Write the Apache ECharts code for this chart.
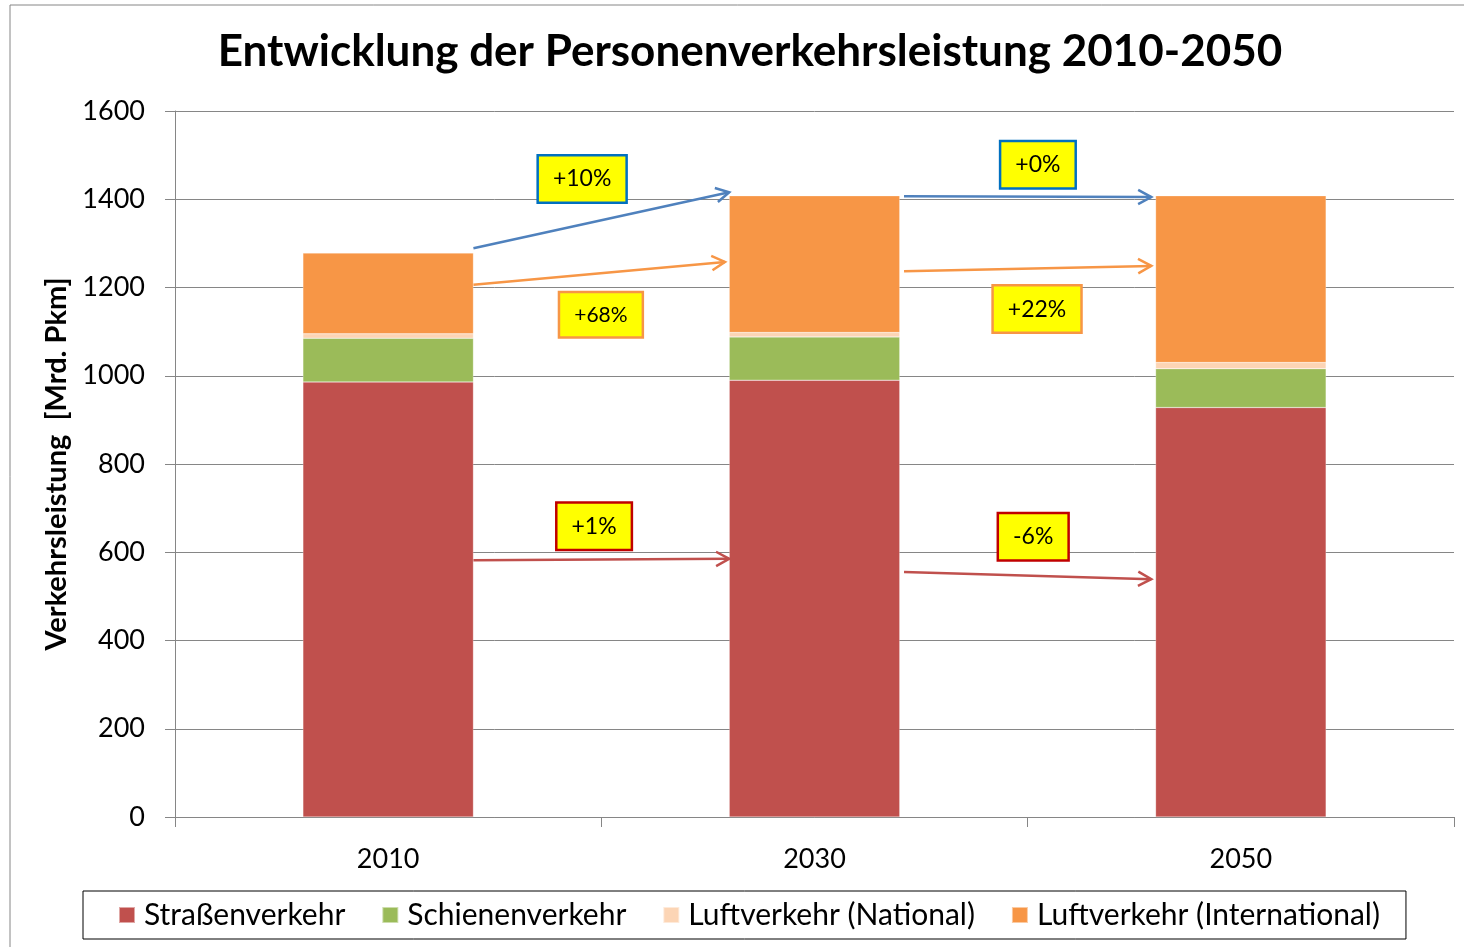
<!DOCTYPE html>
<html>
<head>
<meta charset="utf-8">
<script src="https://cdn.jsdelivr.net/npm/echarts@6/dist/echarts.min.js"></script>
<style>
html, body { margin: 0; padding: 0; background: #fff; }
#chart { width: 1464px; height: 947px; }
</style>
</head>
<body>
<div id="chart"></div>
<script>
// Kategorien und Werte (Mrd. Pkm)
const years = ['2010', '2030', '2050'];
const strasse = [986, 990, 928];
const schiene = [99, 98, 88];
const luftNational = [10, 10, 14];
const luftInternational = [183, 310, 378];

// Pfeile: [x von, y von, x bis, y bis] (x in Kategorie-Einheiten)
const arrows = [
    [0.20, 1289, 0.80, 1416],
    [1.21, 1407, 1.79, 1405],
    [0.20, 1206, 0.79, 1258],
    [1.21, 1237, 1.79, 1249],
    [0.20, 582, 0.80, 585],
    [1.21, 555, 1.79, 539]
];
const arrowColors = ['#4F81BD', '#4F81BD', '#F79646', '#F79646', '#C0504D', '#C0504D'];

// Beschriftungen der Veraenderungen
const changeLabels = ['+10%', '+0%', '+68%', '+22%', '+1%', '-6%'];
const changeX = [0.455, 1.524, 0.499, 1.522, 0.483, 1.513];
const changeY = [1446, 1478, 1138, 1151, 659, 635];
const changeBorder = ['#0070C0', '#0070C0', '#F79646', '#F79646', '#C00000', '#C00000'];

const font = 'Lato';
const colors = ['#C0504D', '#9BBB59', '#FCD5B5', '#F79646'];

function barSeries(name, data, color) {
    return {
        name: name,
        type: 'bar',
        stack: 'total',
        barWidth: '40%',
        data: data,
        itemStyle: {
            color: color,
            borderColor: 'rgba(255,255,255,0.5)',
            borderWidth: 0.5
        }
    };
}

let chart = echarts.init(document.getElementById('chart'));
let option = {
    animation: false,
    color: colors,
    textStyle: {fontFamily: font},
    title: {
        text: 'Entwicklung der Personenverkehrsleistung 2010-2050',
        left: 745,
        top: 25,
        textAlign: 'center',
        textStyle: {
            fontFamily: font,
            fontSize: 44,
            fontWeight: 'bold',
            color: '#000'
        }
    },
    graphic: [{
        type: 'rect',
        shape: {x: 10, y: 5, width: 1480, height: 980},
        style: {fill: null, stroke: '#868686', lineWidth: 1},
        silent: true
    }],
    legend: {
        left: 83,
        top: 891,
        icon: 'rect',
        itemWidth: 16,
        itemHeight: 16,
        itemGap: 36,
        padding: [9, 26, 9, 35],
        borderColor: '#000',
        borderWidth: 1,
        textStyle: {fontFamily: font, fontSize: 30, color: '#000', padding: [0, 0, 0, 4]},
        data: ['Straßenverkehr', 'Schienenverkehr', 'Luftverkehr (National)', 'Luftverkehr (International)']
    },
    grid: {
        left: 175,
        right: 10,
        top: 111,
        bottom: 130
    },
    xAxis: [{
        type: 'category',
        data: years,
        axisLine: {lineStyle: {color: '#868686'}},
        axisTick: {show: true, length: 10, lineStyle: {color: '#868686'}},
        axisLabel: {fontFamily: font, fontSize: 27, color: '#000', margin: 29}
    }, {
        type: 'value',
        min: -0.5,
        max: 2.5,
        show: false
    }],
    yAxis: {
        type: 'value',
        min: 0,
        max: 1600,
        interval: 200,
        name: 'Verkehrsleistung  [Mrd. Pkm]',
        nameLocation: 'middle',
        nameGap: 104,
        nameTextStyle: {fontFamily: font, fontSize: 29, fontWeight: 'bold', color: '#000'},
        axisLine: {show: true, onZero: false, lineStyle: {color: '#868686'}},
        axisTick: {show: true, length: 10, lineStyle: {color: '#868686'}},
        axisLabel: {
            fontFamily: font,
            fontSize: 27,
            color: '#000',
            margin: 30,
            formatter: (v) => String(v)
        },
        splitLine: {lineStyle: {color: '#868686', width: 1}}
    },
    series: [
        barSeries('Straßenverkehr', strasse, colors[0]),
        barSeries('Schienenverkehr', schiene, colors[1]),
        barSeries('Luftverkehr (National)', luftNational, colors[2]),
        barSeries('Luftverkehr (International)', luftInternational, colors[3]),
        {
            type: 'custom',
            xAxisIndex: 1,
            yAxisIndex: 0,
            silent: true,
            z: 5,
            data: arrows,
            encode: {x: [0, 2], y: [1, 3]},
            renderItem: function (params, api) {
                let p1 = api.coord([api.value(0), api.value(1)]);
                let p2 = api.coord([api.value(2), api.value(3)]);
                let color = arrowColors[params.dataIndex];
                let ang = Math.atan2(p2[1] - p1[1], p2[0] - p1[0]);
                let len = 15;
                let a = 0.5;
                let h1 = [p2[0] - len * Math.cos(ang - a), p2[1] - len * Math.sin(ang - a)];
                let h2 = [p2[0] - len * Math.cos(ang + a), p2[1] - len * Math.sin(ang + a)];
                return {
                    type: 'group',
                    children: [{
                        type: 'line',
                        shape: {x1: p1[0], y1: p1[1], x2: p2[0], y2: p2[1]},
                        style: {stroke: color, lineWidth: 2.5}
                    }, {
                        type: 'polyline',
                        shape: {points: [h1, p2, h2]},
                        style: {stroke: color, lineWidth: 2.5, fill: null}
                    }]
                };
            }
        },
        {
            type: 'custom',
            xAxisIndex: 1,
            yAxisIndex: 0,
            silent: true,
            z: 6,
            data: changeX.map((x, i) => [x, changeY[i]]),
            renderItem: function (params, api) {
                let p = api.coord([api.value(0), api.value(1)]);
                let i = params.dataIndex;
                return {
                    type: 'text',
                    x: p[0],
                    y: p[1],
                    style: {
                        text: changeLabels[i],
                        fontFamily: font,
                        fontSize: i === 2 ? 21 : 23,
                        fill: '#000',
                        align: 'center',
                        verticalAlign: 'middle',
                        backgroundColor: '#FFFF00',
                        borderColor: changeBorder[i],
                        borderWidth: 2.5,
                        padding: [11, 14, 11, 14]
                    }
                };
            }
        }
    ]
};
chart.setOption(option);
</script>
</body>
</html>
